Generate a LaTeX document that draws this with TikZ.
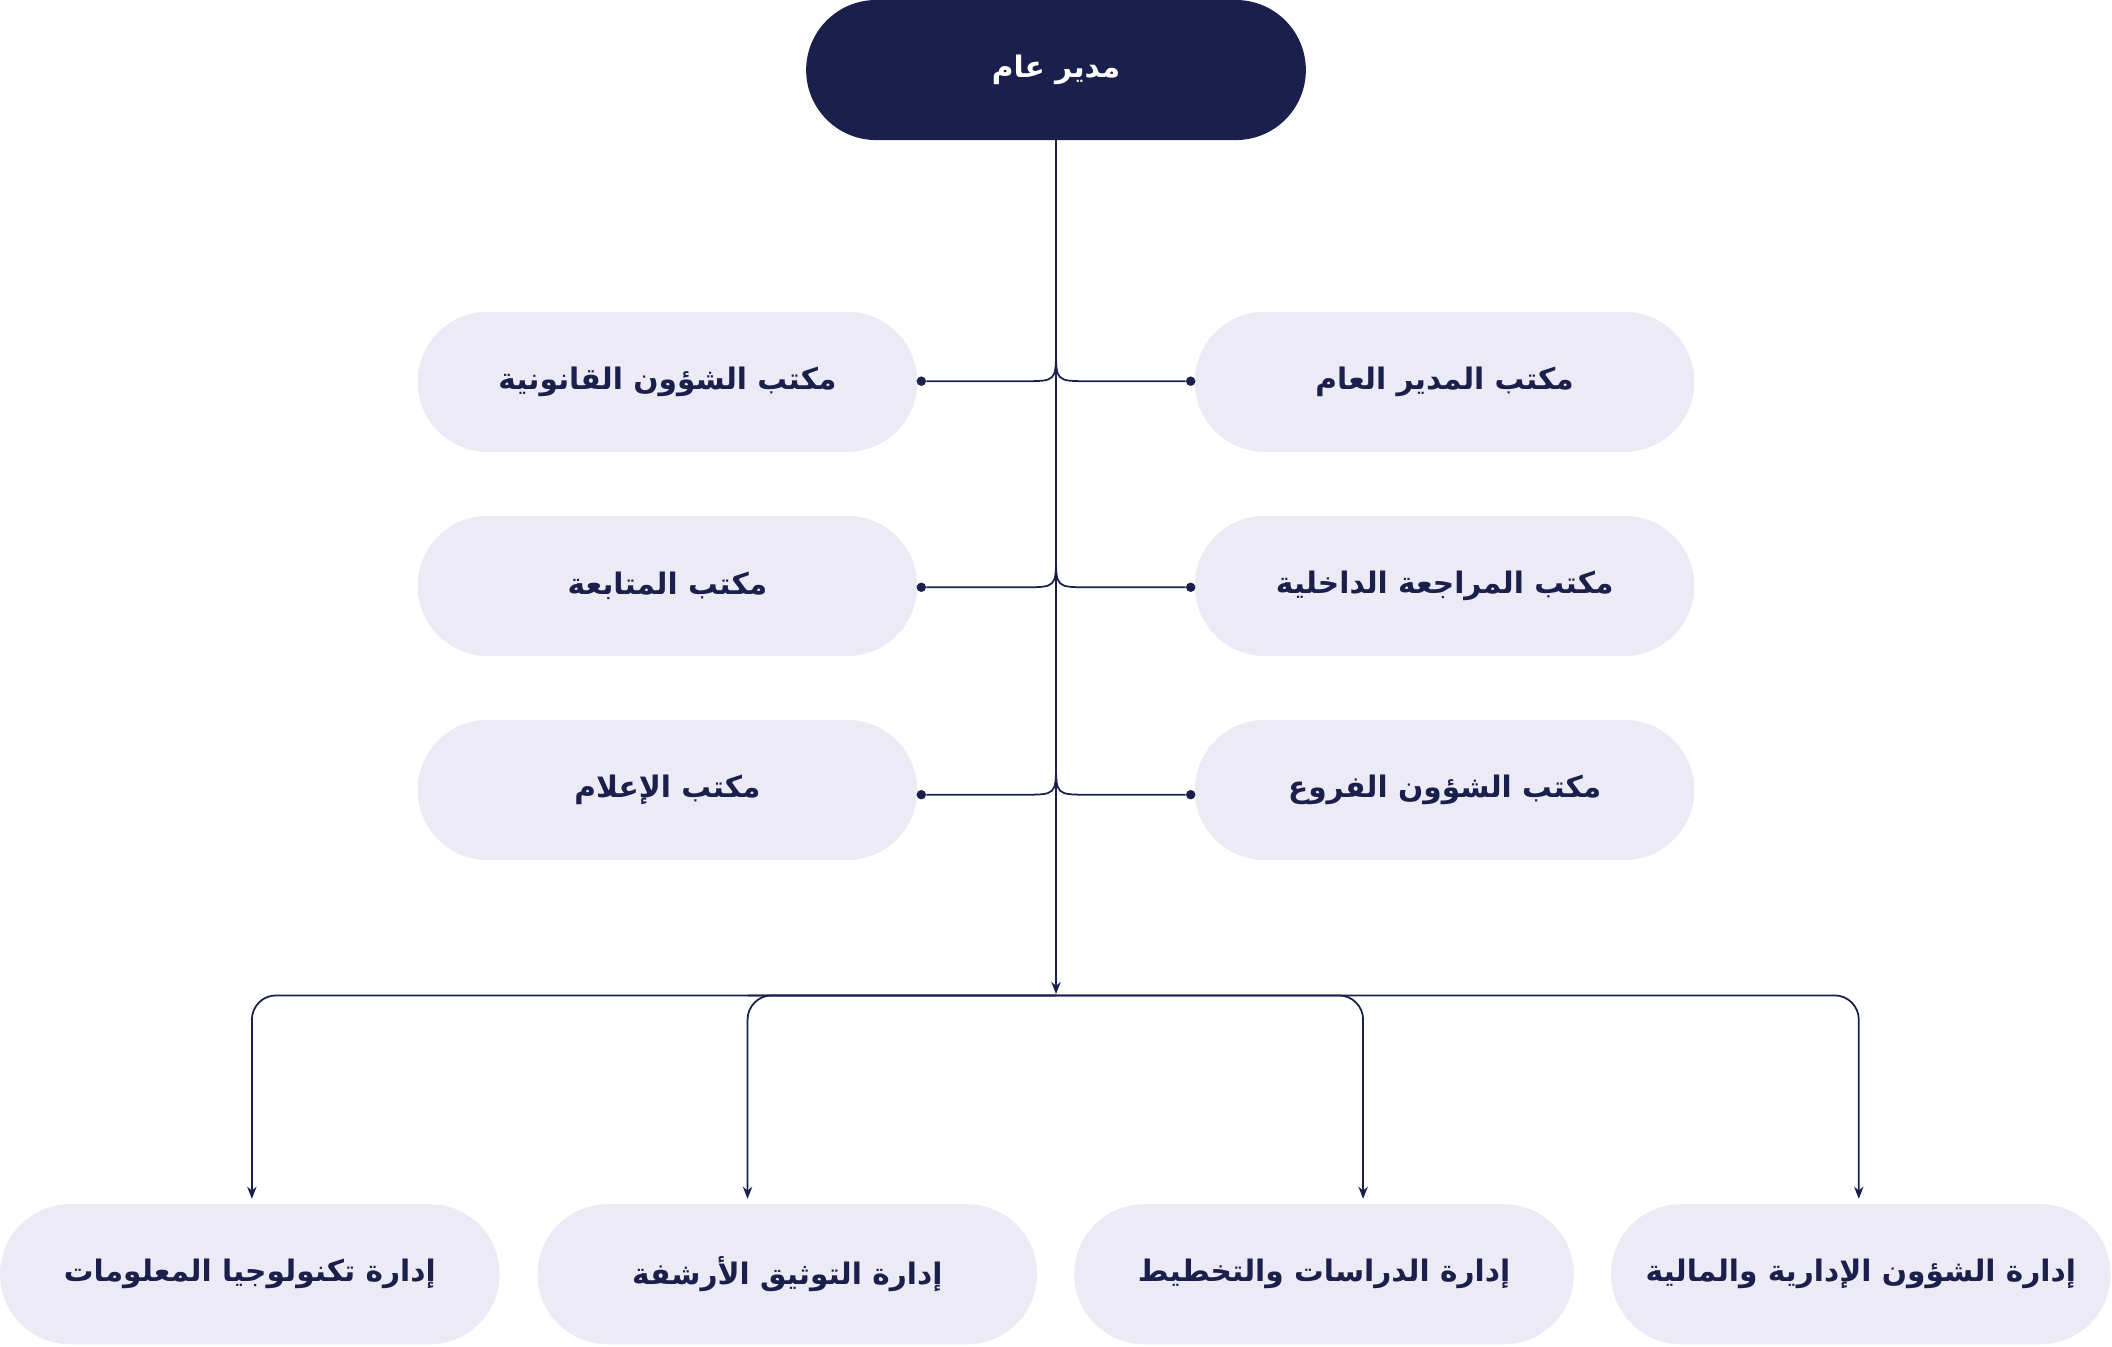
\documentclass[tikz,border=0pt]{standalone}
\usetikzlibrary{arrows.meta}
\usepackage{fontspec}
\newfontfamily\ar[Script=Arabic]{DejaVu Sans}
\TeXXeTstate=1
\definecolor{navy}{HTML}{1A1F4B}
\definecolor{pale}{HTML}{ECEBF5}
\newcommand{\AR}[1]{{\ar\bfseries\beginR #1\endR}}
\begin{document}
\begin{tikzpicture}[x=1pt,y=-1pt,
  box/.style={rounded corners=52pt,fill=pale,minimum width=371pt,minimum height=104pt,inner sep=0pt,text=navy,font=\fontsize{22}{26}\selectfont},
  ln/.style={navy,line width=1.3pt},
  dot/.style={circle,fill=navy,inner sep=0pt,minimum size=7pt},
  arr/.style={ln,-{Stealth[length=9pt,width=7pt]}}]
\useasboundingbox (0,0) rectangle (1568,1000);
\node[box,fill=navy,text=white] (top) at (784,52) {\AR{مدير عام}};
\node[box] (l1) at (495.5,283.5) {\AR{مكتب الشؤون القانونية}};
\node[box] (l2) at (495.5,435) {\AR{مكتب المتابعة}};
\node[box] (l3) at (495.5,586.5) {\AR{مكتب الإعلام}};
\node[box] (r1) at (1072.5,283.5) {\AR{مكتب المدير العام}};
\node[box] (r2) at (1072.5,435) {\AR{مكتب المراجعة الداخلية}};
\node[box] (r3) at (1072.5,586.5) {\AR{مكتب الشؤون الفروع}};
\node[box] (b1) at (185.5,946) {\AR{إدارة تكنولوجيا المعلومات}};
\node[box] (b2) at (584.5,946) {\AR{إدارة التوثيق الأرشفة}};
\node[box] (b3) at (983,946) {\AR{إدارة الدراسات والتخطيط}};
\node[box] (b4) at (1381.5,946) {\AR{إدارة الشؤون الإدارية والمالية}};
\coordinate (bus) at (784,738);
\draw[arr] (top.south) -- (bus);
\foreach \y/\n in {283/1,436/2,590/3}{
  \node[dot] (dl\n) at (684,\y) {};
  \node[dot] (dr\n) at (884,\y) {};
  \draw[ln] (784,\y-24) .. controls (784,\y) .. (760,\y) -- (dl\n);
  \draw[ln] (784,\y-24) .. controls (784,\y) .. (808,\y) -- (dr\n);
}
\draw[arr,rounded corners=18pt] (784,739) -| (187,890);
\draw[arr,rounded corners=18pt] (784,739) -| (555,890);
\draw[arr,rounded corners=18pt] (555,739) -| (1012,890);
\draw[arr,rounded corners=18pt] (784,739) -| (1380,890);
\end{tikzpicture}
\end{document}
